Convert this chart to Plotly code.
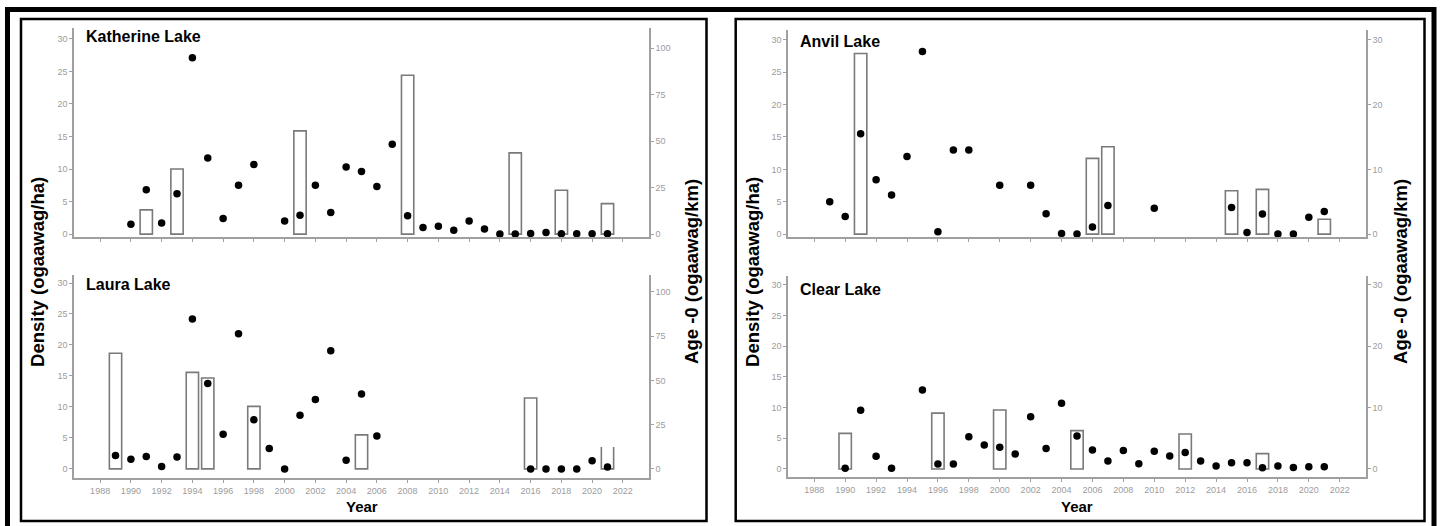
import plotly.graph_objects as go

# ---------------- data ----------------
kath_years = [1990, 1991, 1992, 1993, 1994, 1995, 1996, 1997, 1998,
              2000, 2001, 2002, 2003, 2004, 2005, 2006, 2007, 2008, 2009, 2010,
              2011, 2012, 2013, 2014, 2015, 2016, 2017, 2018, 2019, 2020, 2021]
kath_density = [1.5, 6.8, 1.7, 6.2, 27.1, 11.7, 2.4, 7.5, 10.7,
                2.0, 2.9, 7.5, 3.3, 10.3, 9.6, 7.3, 13.8, 2.8, 1.0, 1.2,
                0.6, 2.0, 0.8, 0.0, 0.0, 0.1, 0.25, 0.05, 0.05, 0.05, 0.05]
kath_bar_years = [1991, 1993, 2001, 2008, 2015, 2018, 2021]
kath_age0 = [13.0, 35.0, 55.5, 85.4, 43.7, 23.6, 16.4]

laura_years = [1989, 1990, 1991, 1992, 1993, 1994, 1995, 1996, 1997, 1998,
               1999, 2000, 2001, 2002, 2003, 2004, 2005, 2006,
               2016, 2017, 2018, 2019, 2020, 2021]
laura_density = [2.15, 1.55, 2.0, 0.4, 1.9, 24.2, 13.8, 5.6, 21.8, 7.95,
                 3.3, 0.0, 8.65, 11.2, 19.05, 1.4, 12.1, 5.3,
                 0.0, 0.0, 0.0, 0.0, 1.3, 0.3]
laura_bar_years = [1989, 1994, 1995, 1998, 2005, 2016]
laura_age0 = [65.3, 54.5, 51.3, 35.3, 19.2, 40.0]
laura_open_years = [2021]
laura_open_age0 = [12.4]

anvil_years = [1989, 1990, 1991, 1992, 1993, 1994, 1995, 1996, 1997, 1998,
               2000, 2002, 2003, 2004, 2005, 2006, 2007, 2010,
               2015, 2016, 2017, 2018, 2019, 2020, 2021]
anvil_density = [5.0, 2.7, 15.5, 8.4, 6.05, 12.0, 28.2, 0.35, 13.0, 13.0,
                 7.55, 7.55, 3.15, 0.1, 0.0, 1.1, 4.4, 4.0,
                 4.1, 0.25, 3.1, 0.0, 0.0, 2.6, 3.5]
anvil_bar_years = [1991, 2006, 2007, 2015, 2017, 2021]
anvil_age0 = [27.9, 11.7, 13.5, 6.7, 6.9, 2.3]

clear_years = [1990, 1991, 1992, 1993, 1995, 1996, 1997, 1998, 1999, 2000,
               2001, 2002, 2003, 2004, 2005, 2006, 2007, 2008, 2009, 2010,
               2011, 2012, 2013, 2014, 2015, 2016, 2017, 2018, 2019, 2020, 2021]
clear_density = [0.1, 9.55, 2.05, 0.1, 12.85, 0.8, 0.8, 5.25, 3.9, 3.55,
                 2.45, 8.5, 3.35, 10.7, 5.35, 3.1, 1.3, 3.0, 0.85, 2.9,
                 2.1, 2.7, 1.3, 0.5, 1.0, 1.0, 0.2, 0.5, 0.25, 0.35, 0.35]
clear_bar_years = [1990, 1996, 2000, 2005, 2012, 2017]
clear_age0 = [5.8, 9.1, 9.6, 6.25, 5.7, 2.5]

lake_names = ["Katherine Lake", "Laura Lake", "Anvil Lake", "Clear Lake"]
year_ticks = list(range(1988, 2023, 2))
density_ticks = [0, 5, 10, 15, 20, 25, 30]
age0_ticks_left = [0, 25, 50, 75, 100]
age0_ticks_right = [0, 10, 20, 30]

# ---------------- styling ----------------
W, H = 1450, 526
FONT = "Liberation Sans, Arial, sans-serif"
AXC = "#a0a0a0"
TICKC = "#9c9c9c"
BAR_W = 0.8
BAR_LINE = "#7a7a7a"

def px(x):
    return x / W

def py(y):
    return 1 - y / H

fig = go.Figure()

panels = [
    dict(xa="x", ya="y", ya2="y5", xd=(74, 649), yd=(28, 238), yr=(-0.46, 31.68), f=3.5,
         aticks=age0_ticks_left, labels=False, name=lake_names[0], ty=37,
         yrs=kath_years, dens=kath_density, byrs=kath_bar_years, age=kath_age0),
    dict(xa="x2", ya="y2", ya2="y6", xd=(74, 649), yd=(275.7, 480), yr=(-1.5, 31.35), f=3.5,
         aticks=age0_ticks_left, labels=True, name=lake_names[1], ty=286,
         yrs=laura_years, dens=laura_density, byrs=laura_bar_years, age=laura_age0),
    dict(xa="x3", ya="y3", ya2="y7", xd=(788, 1366), yd=(30, 238.3), yr=(-0.51, 31.54), f=1.0,
         aticks=age0_ticks_right, labels=False, name=lake_names[2], ty=42,
         yrs=anvil_years, dens=anvil_density, byrs=anvil_bar_years, age=anvil_age0),
    dict(xa="x4", ya="y4", ya2="y8", xd=(788, 1366), yd=(276.7, 479.3), yr=(-1.39, 31.5), f=1.0,
         aticks=age0_ticks_right, labels=True, name=lake_names[3], ty=290.5,
         yrs=clear_years, dens=clear_density, byrs=clear_bar_years, age=clear_age0),
]

layout = {}
annotations = []
for p in panels:
    xk = "xaxis" + p["xa"][1:]
    yk = "yaxis" + p["ya"][1:]
    y2k = "yaxis" + p["ya2"][1:]
    xdom = [px(p["xd"][0]), px(p["xd"][1])]
    ydom = [py(p["yd"][1]), py(p["yd"][0])]
    layout[xk] = dict(domain=xdom, anchor=p["ya"], range=[1986.3, 2023.7],
                      tickvals=year_ticks, showticklabels=p["labels"],
                      ticks="outside", ticklen=3, tickwidth=1, tickcolor=AXC,
                      showline=True, linecolor=AXC, linewidth=1.5,
                      showgrid=False, zeroline=False,
                      tickfont=dict(family=FONT, size=9, color=TICKC))
    layout[yk] = dict(domain=ydom, anchor=p["xa"], range=list(p["yr"]),
                      tickvals=density_ticks, ticks="outside", ticklen=3,
                      tickwidth=1, tickcolor=AXC, showline=True, linecolor=AXC,
                      linewidth=1.5, showgrid=False, zeroline=False,
                      tickfont=dict(family=FONT, size=9, color=TICKC))
    layout[y2k] = dict(overlaying=p["ya"], anchor=p["xa"], side="right",
                       range=[p["yr"][0] * p["f"], p["yr"][1] * p["f"]],
                       tickvals=p["aticks"], ticks="outside", ticklen=3,
                       tickwidth=1, tickcolor=AXC, showline=True, linecolor=AXC,
                       linewidth=1.5, showgrid=False, zeroline=False,
                       tickfont=dict(family=FONT, size=9, color=TICKC))
    # age-0 bars, converted to the density axis (age-0 axis = density axis * factor)
    fig.add_trace(go.Bar(x=p["byrs"], y=[a / p["f"] for a in p["age"]], customdata=p["age"],
                         width=BAR_W, xaxis=p["xa"], yaxis=p["ya"],
                         marker=dict(color="white", line=dict(color=BAR_LINE, width=1.6)),
                         hovertemplate="%{x}: %{customdata} ogaawag/km<extra></extra>",
                         showlegend=False))
    # invisible trace that keeps the secondary (age-0) axis alive
    fig.add_trace(go.Scatter(x=p["byrs"], y=p["age"], mode="markers", xaxis=p["xa"],
                             yaxis=p["ya2"], marker=dict(opacity=0, size=1),
                             hoverinfo="skip", showlegend=False))
    annotations.append(dict(text="<b>%s</b>" % p["name"], xref="paper", yref="paper",
                            x=px(p["xd"][0] + 10), y=py(p["ty"]), xanchor="left",
                            yanchor="middle", showarrow=False,
                            font=dict(family=FONT, size=16, color="black")))

# Laura 2021 open-topped bar outline
ox, oy = [], []
for yr_, v in zip(laura_open_years, laura_open_age0):
    ox += [yr_ - BAR_W / 2, yr_ - BAR_W / 2, yr_ + BAR_W / 2, yr_ + BAR_W / 2, None]
    oy += [v / 3.5, 0, 0, v / 3.5, None]
fig.add_trace(go.Scatter(x=ox, y=oy, mode="lines", xaxis="x2", yaxis="y2",
                         line=dict(color=BAR_LINE, width=1.6), showlegend=False,
                         hoverinfo="skip"))

for p in panels:
    fig.add_trace(go.Scatter(x=p["yrs"], y=p["dens"], mode="markers", xaxis=p["xa"],
                             yaxis=p["ya"], marker=dict(color="black", size=7.5),
                             showlegend=False, cliponaxis=False))

for cx in (38, 753):
    annotations.append(dict(text="<b>Density (ogaawag/ha)</b>", xref="paper", yref="paper",
                            x=px(cx), y=py(273), textangle=-90, showarrow=False,
                            xanchor="center", yanchor="middle",
                            font=dict(family=FONT, size=18.5, color="black")))
for cx in (692, 1401):
    annotations.append(dict(text="<b>Age -0 (ogaawag/km)</b>", xref="paper", yref="paper",
                            x=px(cx), y=py(273), textangle=-90, showarrow=False,
                            xanchor="center", yanchor="middle",
                            font=dict(family=FONT, size=18.5, color="black")))
for cx in (361.5, 1077):
    annotations.append(dict(text="<b>Year</b>", xref="paper", yref="paper",
                            x=px(cx), y=py(508), showarrow=False,
                            xanchor="center", yanchor="middle",
                            font=dict(family=FONT, size=15, color="black")))

shapes = [
    dict(type="rect", xref="paper", yref="paper", x0=px(7.5), x1=px(1434),
         y0=py(560), y1=py(9.5), line=dict(color="black", width=5)),
    dict(type="rect", xref="paper", yref="paper", x0=px(21), x1=px(706.5),
         y0=py(523), y1=py(19), line=dict(color="black", width=2.5)),
    dict(type="rect", xref="paper", yref="paper", x0=px(735.7), x1=px(1424.5),
         y0=py(523), y1=py(19), line=dict(color="black", width=2.5)),
]

fig.update_layout(width=W, height=H, margin=dict(l=0, r=0, t=0, b=0),
                  paper_bgcolor="white", plot_bgcolor="white", showlegend=False,
                  annotations=annotations, shapes=shapes, barmode="overlay",
                  font=dict(family=FONT), **layout)

fig.write_html("out.html", config={"displayModeBar": False},
               post_script="document.body.style.margin='0';document.body.style.overflow='hidden';")
